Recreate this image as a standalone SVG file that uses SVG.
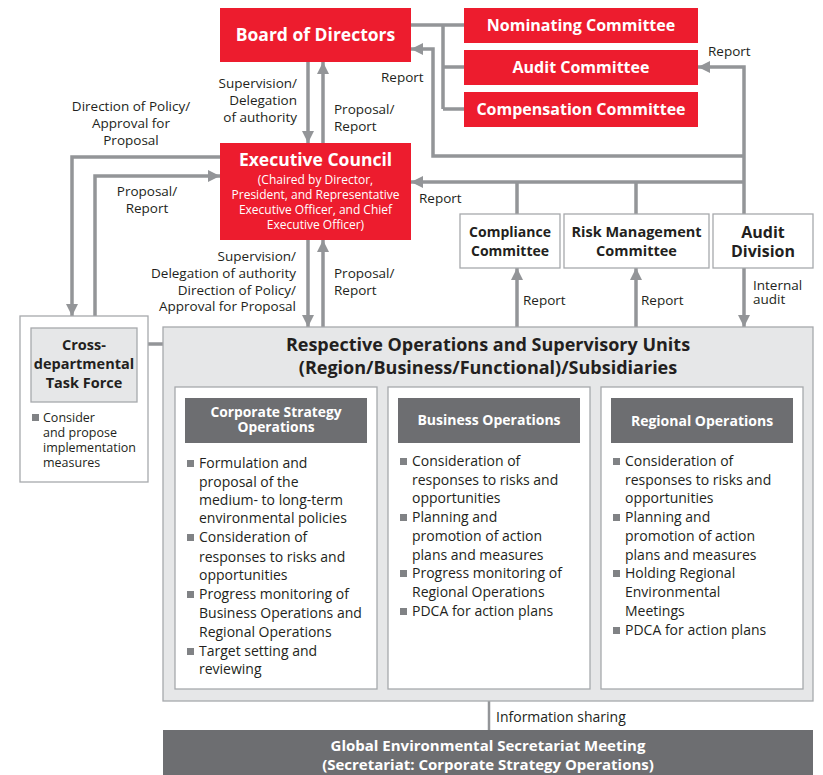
<svg xmlns="http://www.w3.org/2000/svg" width="823" height="775" viewBox="0 0 823 775">
<defs>
<marker id="ah" markerUnits="userSpaceOnUse" markerWidth="12" markerHeight="12" viewBox="0 0 12 12" refX="12" refY="6" orient="auto">
<path d="M0,0 L12,6 L0,12 Z" fill="#939598"/>
</marker>
</defs>
<style>
text{font-family:"Open Sans","Noto Sans",sans-serif;fill:#231f20}
.red{fill:#ed1c2e}
.wb{fill:#fff;font-weight:bold}
.w{fill:#fff}
.b{font-weight:bold}
.lbl{font-size:13.5px}
.box{fill:#fff;stroke:#a7a9ac;stroke-width:1.3}
.gbox{fill:#e6e7e8;stroke:#a7a9ac;stroke-width:1.3}
.hdr{fill:#6d6e71}
.bul{fill:#808285}
.li{font-size:14px}
.c path,.c line{fill:none;stroke:#939598;stroke-width:3.5}
.arr{marker-end:url(#ah)}
</style>

<g class="c" id="connectors">
<path d="M411,25 H464 M443,25 V109 M443,67 H464 M443,109 H464"/>
<path class="arr" d="M744,156 H433 V49 H411"/>
<path class="arr" d="M744,214 V67 H698"/>
<path class="arr" d="M744,182 H411"/>
<path d="M517,214 V182 M636,214 V182"/>
<path class="arr" d="M517,327 V268"/>
<path class="arr" d="M636,327 V268"/>
<path class="arr" d="M744,268 V327"/>
<path class="arr" d="M308,62 V143"/>
<path class="arr" d="M323,143 V62"/>
<path class="arr" d="M308,240 V327"/>
<path class="arr" d="M323,327 V240"/>
<path class="arr" d="M220,157 H72 V316"/>
<path class="arr" d="M95,316 V176 H220"/>
<path d="M148,344 H163"/>
<path d="M489,701 V730" style="stroke-width:2.5"/>
</g>

<g id="labels" class="lbl">
<text x="297" y="88" text-anchor="end">Supervision/</text>
<text x="297" y="105" text-anchor="end">Delegation</text>
<text x="297" y="122" text-anchor="end">of authority</text>
<text x="334" y="114">Proposal/</text>
<text x="334" y="131">Report</text>
<text x="131" y="111" text-anchor="middle">Direction of Policy/</text>
<text x="131" y="128" text-anchor="middle">Approval for</text>
<text x="131" y="145" text-anchor="middle">Proposal</text>
<text x="147" y="196" text-anchor="middle">Proposal/</text>
<text x="147" y="213" text-anchor="middle">Report</text>
<text x="381" y="82">Report</text>
<text x="708" y="56">Report</text>
<text x="419" y="203">Report</text>
<text x="296" y="261" text-anchor="end">Supervision/</text>
<text x="296" y="278" text-anchor="end">Delegation of authority</text>
<text x="296" y="295" text-anchor="end">Direction of Policy/</text>
<text x="296" y="311" text-anchor="end">Approval for Proposal</text>
<text x="334" y="278">Proposal/</text>
<text x="334" y="295">Report</text>
<text x="523" y="305">Report</text>
<text x="641" y="305">Report</text>
<text x="753" y="290">Internal</text>
<text x="753" y="304">audit</text>
<text x="496" y="722" font-size="14">Information sharing</text>
</g>

<g id="board">
<rect class="red" x="220" y="8" width="191" height="54"/>
<text class="wb" x="315.5" y="41" text-anchor="middle" font-size="17.5">Board of Directors</text>
</g>
<g id="nominating">
<rect class="red" x="464" y="8" width="234" height="35"/>
<text class="wb" x="581" y="31" text-anchor="middle" font-size="16">Nominating Committee</text>
</g>
<g id="audit-committee">
<rect class="red" x="464" y="50" width="234" height="35"/>
<text class="wb" x="581" y="73" text-anchor="middle" font-size="16">Audit Committee</text>
</g>
<g id="compensation">
<rect class="red" x="464" y="92" width="234" height="35"/>
<text class="wb" x="581" y="115" text-anchor="middle" font-size="16">Compensation Committee</text>
</g>

<g id="executive-council">
<rect class="red" x="220" y="143" width="191" height="97"/>
<text class="wb" x="315.5" y="166" text-anchor="middle" font-size="17.5">Executive Council</text>
<text class="w" x="315.5" y="184" text-anchor="middle" font-size="12">(Chaired by Director,</text>
<text class="w" x="315.5" y="199" text-anchor="middle" font-size="12">President, and Representative</text>
<text class="w" x="315.5" y="214" text-anchor="middle" font-size="12">Executive Officer, and Chief</text>
<text class="w" x="315.5" y="229" text-anchor="middle" font-size="12">Executive Officer)</text>
</g>

<g id="compliance">
<rect class="box" x="460" y="214" width="100" height="54"/>
<text class="b" x="510" y="237" text-anchor="middle" font-size="14">Compliance</text>
<text class="b" x="510" y="256" text-anchor="middle" font-size="14">Committee</text>
</g>
<g id="risk">
<rect class="box" x="564" y="214" width="145" height="54"/>
<text class="b" x="636.5" y="237" text-anchor="middle" font-size="14.5">Risk Management</text>
<text class="b" x="636.5" y="256" text-anchor="middle" font-size="14.5">Committee</text>
</g>
<g id="audit-division">
<rect class="box" x="713" y="214" width="100" height="54"/>
<text class="b" x="763" y="238" text-anchor="middle" font-size="16">Audit</text>
<text class="b" x="763" y="257" text-anchor="middle" font-size="16">Division</text>
</g>

<g id="task-force">
<rect class="box" x="20" y="316" width="128" height="166"/>
<rect class="gbox" x="31" y="328" width="106" height="74"/>
<text class="b" x="84" y="350" text-anchor="middle" font-size="14.5">Cross-</text>
<text class="b" x="84" y="369" text-anchor="middle" font-size="14.5">departmental</text>
<text class="b" x="84" y="388" text-anchor="middle" font-size="14.5">Task Force</text>
<rect class="bul" x="32" y="414" width="7" height="7"/>
<g font-size="12.5">
<text x="43" y="422">Consider</text>
<text x="43" y="437">and propose</text>
<text x="43" y="452">implementation</text>
<text x="43" y="467">measures</text>
</g>
</g>

<g id="operations">
<rect class="gbox" x="163" y="327" width="650" height="374"/>
<text class="b" x="488" y="351" text-anchor="middle" font-size="18">Respective Operations and Supervisory Units</text>
<text class="b" x="488" y="374" text-anchor="middle" font-size="18">(Region/Business/Functional)/Subsidiaries</text>
</g>

<g id="corporate-strategy">
<rect class="box" x="175" y="387" width="202" height="302"/>
<rect class="hdr" x="185" y="398" width="182" height="45"/>
<text class="wb" x="276" y="417" text-anchor="middle" font-size="13.8">Corporate Strategy</text>
<text class="wb" x="276" y="432" text-anchor="middle" font-size="13.8">Operations</text>
<rect class="bul" x="187" y="460" width="7" height="7"/>
<rect class="bul" x="187" y="534" width="7" height="7"/>
<rect class="bul" x="187" y="591" width="7" height="7"/>
<rect class="bul" x="187" y="648" width="7" height="7"/>
<g class="li">
<text x="199" y="468">Formulation and</text>
<text x="199" y="487">proposal of the</text>
<text x="199" y="505">medium- to long-term</text>
<text x="199" y="523">environmental policies</text>
<text x="199" y="542">Consideration of</text>
<text x="199" y="562">responses to risks and</text>
<text x="199" y="580">opportunities</text>
<text x="199" y="599">Progress monitoring of</text>
<text x="199" y="618">Business Operations and</text>
<text x="199" y="637">Regional Operations</text>
<text x="199" y="656">Target setting and</text>
<text x="199" y="674">reviewing</text>
</g>
</g>

<g id="business-operations">
<rect class="box" x="388" y="387" width="202" height="302"/>
<rect class="hdr" x="398" y="398" width="182" height="45"/>
<text class="wb" x="489" y="425" text-anchor="middle" font-size="14">Business Operations</text>
<rect class="bul" x="400" y="458" width="7" height="7"/>
<rect class="bul" x="400" y="514" width="7" height="7"/>
<rect class="bul" x="400" y="570" width="7" height="7"/>
<rect class="bul" x="400" y="608" width="7" height="7"/>
<g class="li">
<text x="412" y="466">Consideration of</text>
<text x="412" y="485">responses to risks and</text>
<text x="412" y="503">opportunities</text>
<text x="412" y="522">Planning and</text>
<text x="412" y="541">promotion of action</text>
<text x="412" y="560">plans and measures</text>
<text x="412" y="578">Progress monitoring of</text>
<text x="412" y="597">Regional Operations</text>
<text x="412" y="616">PDCA for action plans</text>
</g>
</g>

<g id="regional-operations">
<rect class="box" x="601" y="387" width="202" height="302"/>
<rect class="hdr" x="611" y="398" width="182" height="45"/>
<text class="wb" x="702" y="426" text-anchor="middle" font-size="14">Regional Operations</text>
<rect class="bul" x="613" y="458" width="7" height="7"/>
<rect class="bul" x="613" y="514" width="7" height="7"/>
<rect class="bul" x="613" y="570" width="7" height="7"/>
<rect class="bul" x="613" y="627" width="7" height="7"/>
<g class="li">
<text x="625" y="466">Consideration of</text>
<text x="625" y="485">responses to risks and</text>
<text x="625" y="503">opportunities</text>
<text x="625" y="522">Planning and</text>
<text x="625" y="541">promotion of action</text>
<text x="625" y="560">plans and measures</text>
<text x="625" y="578">Holding Regional</text>
<text x="625" y="597">Environmental</text>
<text x="625" y="616">Meetings</text>
<text x="625" y="635">PDCA for action plans</text>
</g>
</g>

<g id="global-meeting">
<rect class="hdr" x="163" y="730" width="650" height="45"/>
<text class="wb" x="488" y="751" text-anchor="middle" font-size="15">Global Environmental Secretariat Meeting</text>
<text class="wb" x="488" y="770" text-anchor="middle" font-size="15">(Secretariat: Corporate Strategy Operations)</text>
</g>
</svg>
